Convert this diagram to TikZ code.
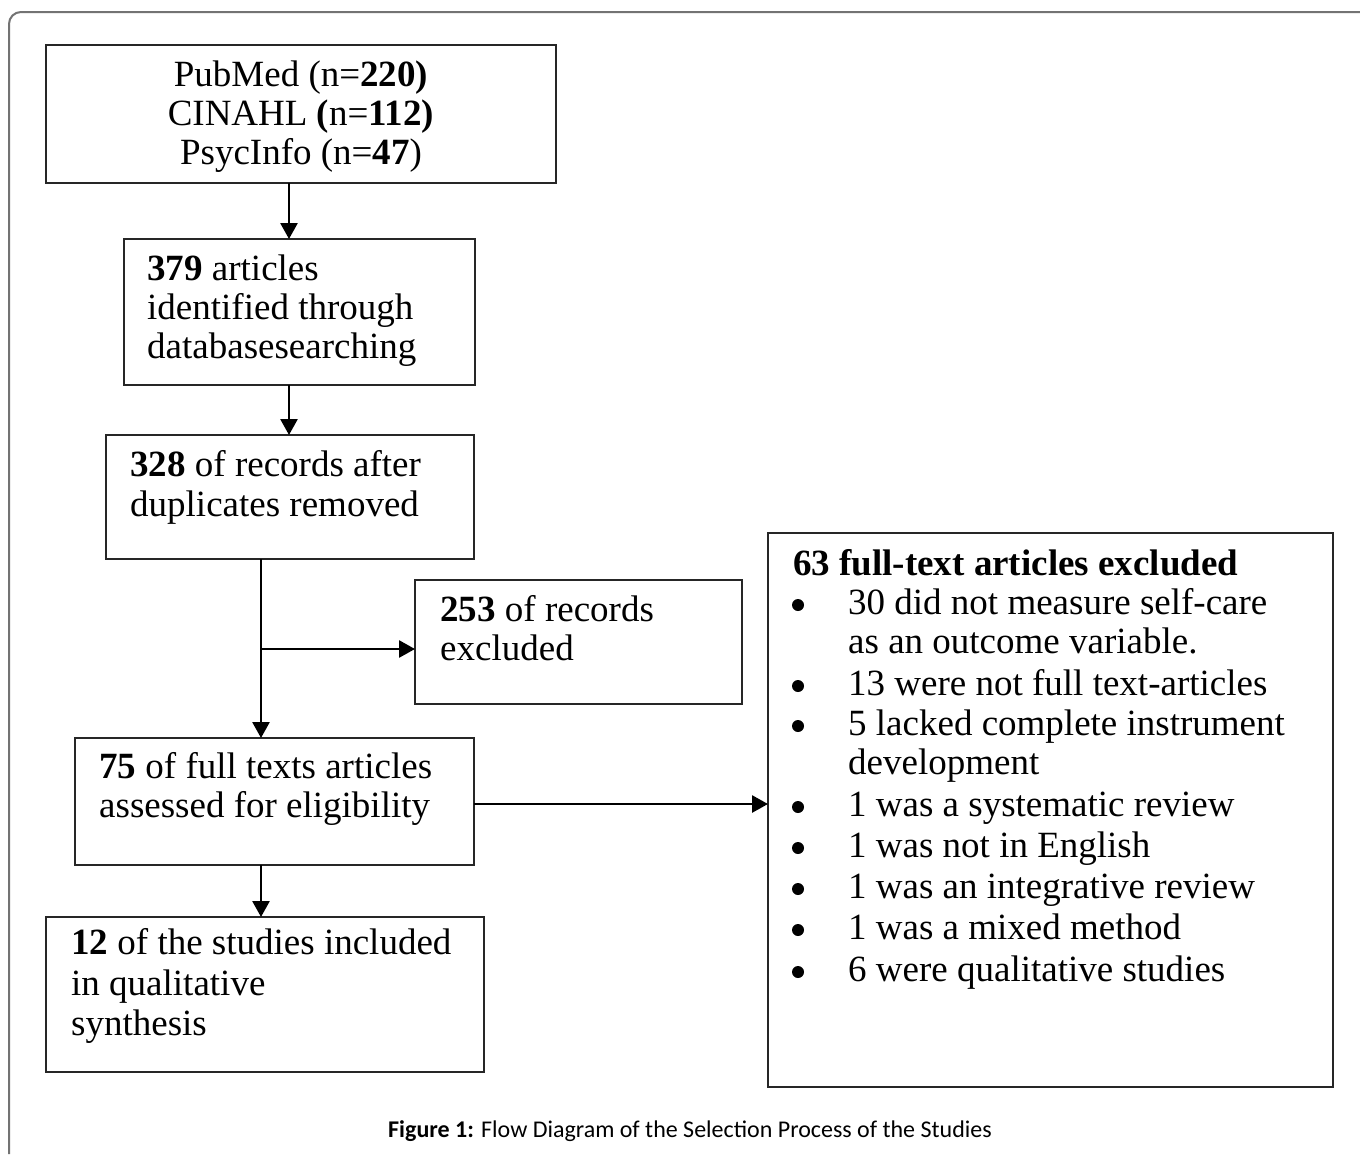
\documentclass[tikz,border=0pt]{standalone}
\usepackage{fontspec}
\setmainfont{Liberation Serif}
\newfontfamily\capfont{Carlito}
\usetikzlibrary{arrows.meta}
\begin{document}
\begin{tikzpicture}[x=1pt,y=-1pt,
  fbox/.style={draw=black!85, line width=1.8pt, anchor=north west, inner sep=0pt, outer sep=0pt, rectangle},
  txt/.style={anchor=base west, inner sep=0pt, font=\fontsize{37}{39}\selectfont},
  ctxt/.style={anchor=base, inner sep=0pt, font=\fontsize{37}{39}\selectfont},
  dot/.style={circle, fill=black, inner sep=0pt, minimum size=12pt},
  arr/.style={line width=2.7pt, -{Triangle[width=17pt,length=16pt]}},
  frame/.style={draw=black!55, line width=2pt, rounded corners=12pt}]
\useasboundingbox (0,0) rectangle (1360,1154);
\fill[white] (0,0) rectangle (1360,1154);
% outer frame
\draw[frame] (1360,12) -- (9,12) -- (9,1154);
% boxes
\node[fbox, minimum width=510pt, minimum height=138pt] (b1) at (46,45) {};
\node[fbox, minimum width=351pt, minimum height=146pt] (b2) at (124,239) {};
\node[fbox, minimum width=368pt, minimum height=124pt] (b3) at (106,435) {};
\node[fbox, minimum width=327pt, minimum height=124pt] (b4) at (415,580) {};
\node[fbox, minimum width=399pt, minimum height=127pt] (b5) at (75,738) {};
\node[fbox, minimum width=438pt, minimum height=155pt] (b6) at (46,917) {};
\node[fbox, minimum width=565pt, minimum height=554pt] (b7) at (768,533) {};
% texts box 1
\node[ctxt] (t1a) at (301,86) {PubMed (n=\textbf{220)}};
\node[ctxt] (t1b) at (301,125) {CINAHL \textbf{(}n=\textbf{112)}};
\node[ctxt] (t1c) at (301,164) {PsycInfo (n=\textbf{47})};
% box 2
\node[txt] (t2a) at (147,280) {\textbf{379} articles};
\node[txt] (t2b) at (147,319) {identified through};
\node[txt] (t2c) at (147,358) {databasesearching};
% box 3
\node[txt] (t3a) at (130,476) {\textbf{328} of records after};
\node[txt] (t3b) at (130,516) {duplicates removed};
% box 4
\node[txt] (t4a) at (440,621) {\textbf{253} of records};
\node[txt] (t4b) at (440,660) {excluded};
% box 5
\node[txt] (t5a) at (99,778) {\textbf{75} of full texts articles};
\node[txt] (t5b) at (99,817) {assessed for eligibility};
% box 6
\node[txt] (t6a) at (71,954) {\textbf{12} of the studies included};
\node[txt] (t6b) at (71,995) {in qualitative};
\node[txt] (t6c) at (71,1035) {synthesis};
% box 7
\node[txt] (t7) at (793,575) {\textbf{63 full-text articles excluded}};
\node[dot] (d1) at (798,605) {};
\node[txt] (l1) at (848,614) {30 did not measure self-care};
\node[txt] (l1b) at (848,653) {as an outcome variable.};
\node[dot] (d2) at (798,686) {};
\node[txt] (l2) at (848,695) {13 were not full text-articles};
\node[dot] (d3) at (798,726) {};
\node[txt] (l3) at (848,735) {5 lacked complete instrument};
\node[txt] (l3b) at (848,774) {development};
\node[dot] (d4) at (798,807) {};
\node[txt] (l4) at (848,816) {1 was a systematic review};
\node[dot] (d5) at (798,848) {};
\node[txt] (l5) at (848,857) {1 was not in English};
\node[dot] (d6) at (798,889) {};
\node[txt] (l6) at (848,898) {1 was an integrative review};
\node[dot] (d7) at (798,930) {};
\node[txt] (l7) at (848,939) {1 was a mixed method};
\node[dot] (d8) at (798,972) {};
\node[txt] (l8) at (848,981) {6 were qualitative studies};
% caption
\node[anchor=base, inner sep=0pt, font=\capfont\fontsize{24}{28}\selectfont] (cap) at (690,1137) {\textbf{Figure 1:} Flow Diagram of the Selection Process of the Studies};
% connector coordinates
\coordinate (xa) at (289,0);
\coordinate (xb) at (261,0);
\coordinate (br) at (261,649);
\coordinate (ya) at (0,804);
% connectors
\draw[arr] (b1.south -| xa) -- (b2.north -| xa);
\draw[arr] (b2.south -| xa) -- (b3.north -| xa);
\draw[arr] (b3.south -| xb) -- (b5.north -| xb);
\draw[arr] (br) -- (br -| b4.west);
\draw[arr] (b5.east |- ya) -- (b7.west |- ya);
\draw[arr] (b5.south -| xb) -- (b6.north -| xb);
\end{tikzpicture}
\end{document}
